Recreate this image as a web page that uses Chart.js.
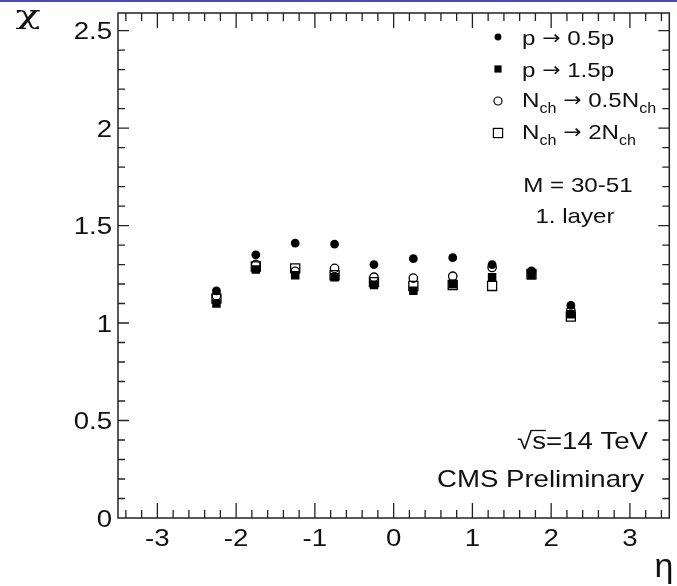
<!DOCTYPE html>
<html>
<head>
<meta charset="utf-8">
<script src="https://cdn.jsdelivr.net/npm/chart.js@4.4.0/dist/chart.umd.min.js"></script>
<style>
  html, body { margin: 0; padding: 0; background: #fff; }
  #wrap { width: 677px; height: 586px; }
</style>
</head>
<body>
<div id="wrap"><canvas id="chart" width="677" height="586"></canvas></div>
<script>
// eta bin centres
const ETA = [-2.25, -1.75, -1.25, -0.75, -0.25, 0.25, 0.75, 1.25, 1.75, 2.25];

// chi per variation
const P_HALF   = [1.165, 1.35, 1.41, 1.405, 1.30, 1.33, 1.335, 1.30, 1.265, 1.09];   // p -> 0.5p
const P_1P5    = [1.10, 1.275, 1.245, 1.235, 1.195, 1.165, 1.20, 1.235, 1.245, 1.045]; // p -> 1.5p
const NCH_HALF = [1.14, 1.30, 1.265, 1.28, 1.235, 1.23, 1.24, 1.285, 1.265, 1.065];  // Nch -> 0.5Nch
const NCH_2    = [1.125, 1.29, 1.28, 1.245, 1.21, 1.19, 1.195, 1.19, 1.25, 1.033];   // Nch -> 2Nch

const X_TICKS = [-3, -2, -1, 0, 1, 2, 3];
const Y_TICKS = [0, 0.5, 1, 1.5, 2, 2.5];
const Y_TICK_LABELS = ["0", "0.5", "1", "1.5", "2", "2.5"];

const FONT = '"Liberation Sans", Arial, sans-serif';
const ARROW_FONT = '"DejaVu Sans", sans-serif';
const SX = 1.15; // the original picture is a bit wider than tall

function pts(ys) {
  return ETA.map((x, i) => ({ x: x, y: ys[i] }));
}

// text runs: [{t, size, dy, font}] drawn from a baseline, stretched horizontally
function drawRuns(ctx, runs, x, y, align, sx) {
  const k = sx || SX;
  let total = 0;
  runs.forEach(r => {
    ctx.font = r.size + "px " + (r.font || FONT);
    r.w = ctx.measureText(r.t).width * k;
    total += r.w;
  });
  let cx = x;
  if (align === "right") cx = x - total;
  if (align === "center") cx = x - total / 2;
  runs.forEach(r => {
    ctx.font = r.size + "px " + (r.font || FONT);
    ctx.save();
    ctx.translate(cx, y + (r.dy || 0));
    ctx.scale(k, 1);
    ctx.fillText(r.t, 0, 0);
    ctx.restore();
    r.x = cx;
    cx += r.w;
  });
  return runs;
}

const arrow = { t: "\u2192", size: 19, font: ARROW_FONT, dy: -1 };

const rootStyle = {
  id: "rootStyle",
  beforeDraw(chart) {
    const ctx = chart.ctx;
    ctx.save();
    ctx.fillStyle = "#fff";
    ctx.fillRect(0, 0, chart.width, chart.height);
    ctx.fillStyle = "#4b4bab";
    ctx.fillRect(0, 0, chart.width, 2);
    ctx.restore();
  },
  afterDatasetsDraw(chart) {
    const ctx = chart.ctx;
    const a = chart.chartArea;
    const xs = chart.scales.x;
    const ys = chart.scales.y;
    ctx.save();
    ctx.strokeStyle = "#222";
    ctx.lineWidth = 1.5;
    ctx.strokeRect(a.left, a.top, a.right - a.left, a.bottom - a.top);

    // ticks, inside the frame on all four sides
    ctx.lineWidth = 1.3;
    ctx.beginPath();
    for (let i = -17; i <= 17; i++) {
      const len = i % 5 === 0 ? 15 : 8;
      const px = xs.getPixelForValue(i * 0.2);
      ctx.moveTo(px, a.bottom); ctx.lineTo(px, a.bottom - len);
      ctx.moveTo(px, a.top); ctx.lineTo(px, a.top + len);
    }
    for (let i = 1; i <= 25; i++) {
      const len = i % 5 === 0 ? 11 : 7;
      const py = ys.getPixelForValue(i * 0.1);
      ctx.moveTo(a.left, py); ctx.lineTo(a.left + len, py);
      ctx.moveTo(a.right, py); ctx.lineTo(a.right - len, py);
    }
    ctx.stroke();

    ctx.fillStyle = "#111";
    ctx.textBaseline = "alphabetic";
    // tick labels
    X_TICKS.forEach(v => {
      drawRuns(ctx, [{ t: String(v), size: 24 }], xs.getPixelForValue(v), 546, "center");
    });
    Y_TICKS.forEach((v, i) => {
      drawRuns(ctx, [{ t: Y_TICK_LABELS[i], size: 24 }], 112, ys.getPixelForValue(v) + 8.5, "right");
    });

    // axis titles
    drawRuns(ctx, [{ t: "\u03C7", size: 26, font: '"DejaVu Serif", serif' }], 28, 24, "center", 1.6);
    drawRuns(ctx, [{ t: "\u03B7", size: 34 }], 664, 577, "center", 1.0);

    // legend
    const mx = 498;
    ctx.fillStyle = "#000";
    ctx.beginPath(); ctx.arc(mx, 37, 3.4, 0, Math.PI * 2); ctx.fill();
    ctx.fillRect(mx - 3.6, 69 - 3.6, 7.2, 7.2);
    ctx.strokeStyle = "#000";
    ctx.lineWidth = 1.2;
    ctx.beginPath(); ctx.arc(mx, 101, 4, 0, Math.PI * 2); ctx.stroke();
    ctx.strokeRect(mx - 4.6, 133 - 4.6, 9.2, 9.2);

    ctx.fillStyle = "#111";
    const lx = 522;
    drawRuns(ctx, [{ t: "p ", size: 21 }, arrow, { t: " 0.5p", size: 21 }], lx, 45, "left");
    drawRuns(ctx, [{ t: "p ", size: 21 }, arrow, { t: " 1.5p", size: 21 }], lx, 77, "left");
    drawRuns(ctx, [
      { t: "N", size: 21 }, { t: "ch", size: 14, dy: 6 }, { t: " ", size: 21 }, arrow,
      { t: " 0.5N", size: 21 }, { t: "ch", size: 14, dy: 6 }
    ], lx, 107, "left");
    drawRuns(ctx, [
      { t: "N", size: 21 }, { t: "ch", size: 14, dy: 6 }, { t: " ", size: 21 }, arrow,
      { t: " 2N", size: 21 }, { t: "ch", size: 14, dy: 6 }
    ], lx, 139, "left");
    drawRuns(ctx, [{ t: "M = 30-51", size: 21 }], 578, 192, "center");
    drawRuns(ctx, [{ t: "1. layer", size: 21 }], 575, 223, "center");

    // energy and label
    const runs = drawRuns(ctx, [{ t: "\u221A", size: 24 }, { t: "s=14 TeV", size: 24 }], 648, 449, "right");
    ctx.font = "24px " + FONT;
    const sw = ctx.measureText("s").width * SX;
    ctx.lineWidth = 1.3;
    ctx.strokeStyle = "#111";
    ctx.beginPath();
    ctx.moveTo(runs[1].x - 1, 430.5);
    ctx.lineTo(runs[1].x + sw, 430.5);
    ctx.stroke();
    drawRuns(ctx, [{ t: "CMS Preliminary", size: 24 }], 644, 487, "right");
    ctx.restore();
  }
};

new Chart(document.getElementById("chart"), {
  type: "scatter",
  data: {
    datasets: [
      {
        label: "p \u2192 0.5p",
        data: pts(P_HALF),
        pointStyle: "circle",
        pointRadius: 4.4,
        backgroundColor: "#000",
        borderColor: "#000",
        borderWidth: 0,
        order: 4
      },
      {
        label: "p \u2192 1.5p",
        data: pts(P_1P5),
        pointStyle: "rect",
        pointRadius: 6.0,
        backgroundColor: "#000",
        borderColor: "#000",
        borderWidth: 0,
        order: 3
      },
      {
        label: "Nch \u2192 0.5Nch",
        data: pts(NCH_HALF),
        pointStyle: "circle",
        pointRadius: 4.2,
        backgroundColor: "rgba(0,0,0,0)",
        borderColor: "#000",
        borderWidth: 1.3,
        order: 2
      },
      {
        label: "Nch \u2192 2Nch",
        data: pts(NCH_2),
        pointStyle: "rect",
        pointRadius: 6.4,
        backgroundColor: "rgba(0,0,0,0)",
        borderColor: "#000",
        borderWidth: 1.3,
        order: 1
      }
    ]
  },
  options: {
    responsive: false,
    animation: false,
    devicePixelRatio: 1,
    layout: { padding: { top: 13, right: 2, left: 0, bottom: 0 } },
    plugins: {
      legend: { display: false },
      tooltip: { enabled: false },
      title: { display: false }
    },
    scales: {
      x: {
        type: "linear",
        min: -3.5,
        max: 3.5,
        grid: { display: false, drawTicks: false },
        border: { display: false },
        ticks: { display: false },
        afterFit: (scale) => { scale.height = 68; }
      },
      y: {
        type: "linear",
        min: 0,
        max: 2.59,
        grid: { display: false, drawTicks: false },
        border: { display: false },
        ticks: { display: false },
        afterFit: (scale) => { scale.width = 118; }
      }
    }
  },
  plugins: [rootStyle]
});
</script>
</body>
</html>
